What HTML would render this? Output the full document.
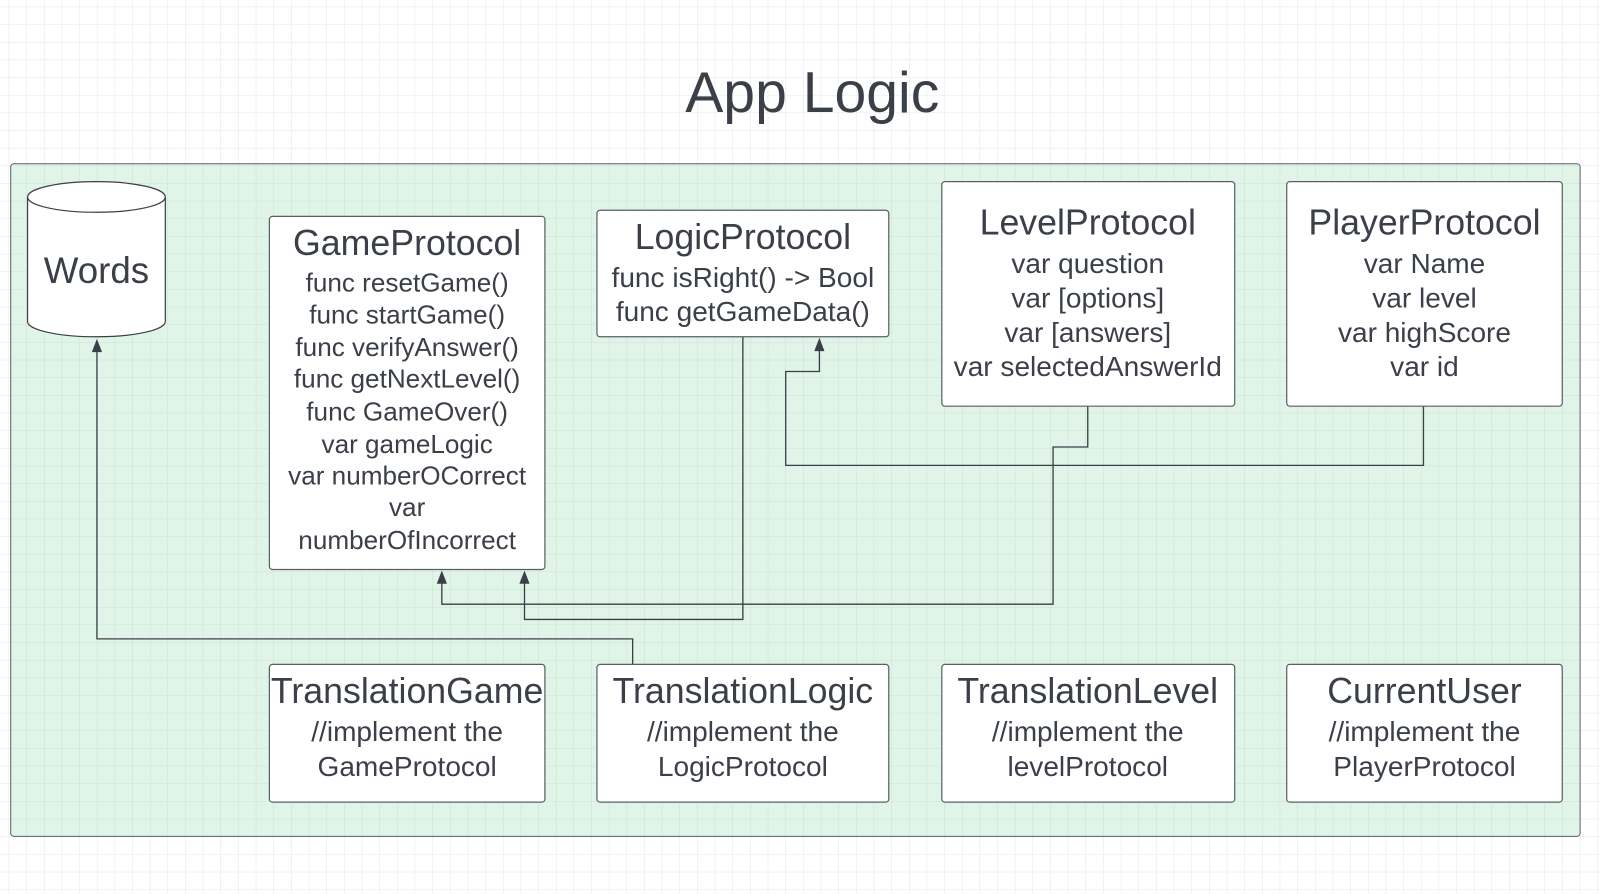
<!DOCTYPE html>
<html><head><meta charset="utf-8"><style>
html,body{margin:0;padding:0;background:#fff;}
svg{display:block;}
text{font-family:"Liberation Sans",sans-serif;fill:#3a3f48;text-anchor:middle;dominant-baseline:central;}
</style></head><body>
<svg width="1600" height="894" viewBox="0 0 1568 876" preserveAspectRatio="none" xmlns="http://www.w3.org/2000/svg">
<defs>
<pattern id="g" width="17.3" height="17.3" patternUnits="userSpaceOnUse" x="9" y="7">
<path d="M17.3 0V17.3M0 17.3H17.3" stroke="#e4e6e8" stroke-width="1" fill="none"/>
</pattern>
<pattern id="g2" width="17.3" height="17.3" patternUnits="userSpaceOnUse" x="9" y="7">
<path d="M17.3 0V17.3M0 17.3H17.3" stroke="#c9e3d2" stroke-width="1" fill="none"/>
</pattern>
</defs>
<rect width="1568" height="876" fill="#fff"/>
<rect width="1568" height="876" fill="url(#g)"/>
<text x="796" y="91" font-size="56">App Logic</text>
<rect x="10.5" y="160.5" width="1538" height="659" rx="3" fill="#e0f5e8" stroke="#5a5f66"/>
<rect x="11" y="161" width="1537" height="658" fill="url(#g2)"/>
<g fill="none" stroke="#3a3f48" stroke-width="1.3">
<path d="M620 651V626H95V343"/>
<path d="M728 330V607H514V570"/>
<path d="M1066 398V438H1032V592H433V570"/>
<path d="M1395 398V456H770V364H803V342"/>
</g>
<g fill="#3a3f48">
<path d="M90 345L95 332L100 345Z"/>
<path d="M509 572L514 559L519 572Z"/>
<path d="M428 572L433 559L438 572Z"/>
<path d="M798 344L803 331L808 344Z"/>
</g>
<path d="M27 193V315A67.5 15 0 0 0 162 315V193" fill="#fff" stroke="#3a3f48" stroke-width="1.2"/>
<ellipse cx="94.5" cy="193" rx="67.5" ry="15" fill="#fff" stroke="#3a3f48" stroke-width="1.2"/>
<text x="94.5" y="265" font-size="36">Words</text>
<g fill="#fff" stroke="#5a5f66" stroke-width="1.2">
<rect x="264" y="212" width="270" height="346" rx="3"/>
<rect x="585" y="206" width="286" height="124" rx="3"/>
<rect x="923" y="178" width="287" height="220" rx="3"/>
<rect x="1261" y="178" width="270" height="220" rx="3"/>
<rect x="264" y="651" width="270" height="135" rx="3"/>
<rect x="585" y="651" width="286" height="135" rx="3"/>
<rect x="923" y="651" width="287" height="135" rx="3"/>
<rect x="1261" y="651" width="270" height="135" rx="3"/>
</g>
<g font-size="35">
<text x="399" y="238">GameProtocol</text>
<text x="728" y="232">LogicProtocol</text>
<text x="1066" y="218">LevelProtocol</text>
<text x="1396" y="218">PlayerProtocol</text>
<text x="399" y="677">TranslationGame</text>
<text x="728" y="677">TranslationLogic</text>
<text x="1066" y="677">TranslationLevel</text>
<text x="1396" y="677">CurrentUser</text>
</g>
<g font-size="25.6">
<text x="399" y="277">func resetGame()</text>
<text x="399" y="308">func startGame()</text>
<text x="399" y="340">func verifyAnswer()</text>
<text x="399" y="371">func getNextLevel()</text>
<text x="399" y="403">func GameOver()</text>
<text x="399" y="435">var gameLogic</text>
<text x="399" y="466">var numberOCorrect</text>
<text x="399" y="497">var</text>
<text x="399" y="529">numberOfIncorrect</text>
</g>
<g font-size="27.5">
<text x="728" y="272">func isRight() -&gt; Bool</text>
<text x="728" y="305">func getGameData()</text>
<text x="1066" y="258">var question</text>
<text x="1066" y="292">var [options]</text>
<text x="1066" y="326">var [answers]</text>
<text x="1066" y="359">var selectedAnswerId</text>
<text x="1396" y="258">var Name</text>
<text x="1396" y="292">var level</text>
<text x="1396" y="326">var highScore</text>
<text x="1396" y="359">var id</text>
<text x="399" y="717">//implement the</text>
<text x="399" y="751">GameProtocol</text>
<text x="728" y="717">//implement the</text>
<text x="728" y="751">LogicProtocol</text>
<text x="1066" y="717">//implement the</text>
<text x="1066" y="751">levelProtocol</text>
<text x="1396" y="717">//implement the</text>
<text x="1396" y="751">PlayerProtocol</text>
</g>
</svg>
</body></html>
